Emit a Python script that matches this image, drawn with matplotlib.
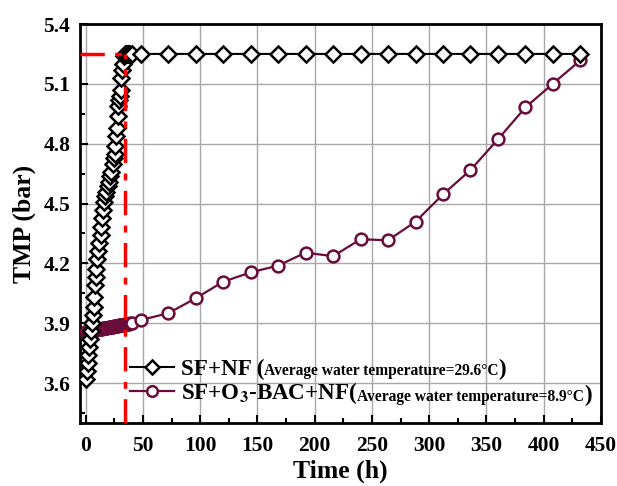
import matplotlib
matplotlib.use("Agg")
import matplotlib.pyplot as plt
from matplotlib.ticker import MultipleLocator, FormatStrFormatter

plt.rcParams['font.family'] = 'serif'
plt.rcParams['font.serif'] = ['Liberation Serif', 'DejaVu Serif']
plt.rcParams['font.weight'] = 'bold'
plt.rcParams['mathtext.fontset'] = 'stix'

# SF+NF (29.6 C) - fast rise in the first ~34 h, then flat
sf_nf_time = [0.0, 0.8, 1.6, 2.4, 3.2, 4.0, 4.8, 5.6, 6.4, 7.0, 7.6, 8.0, 8.6, 9.3,
              10.0, 11.0, 12.0, 13.0, 13.7, 14.4, 15.1, 16.0, 17.0, 18.1, 19.3, 20.4,
              21.5, 22.5, 23.4, 24.4, 25.3, 26.0, 26.8, 27.2, 27.8, 28.2, 29.0, 29.7,
              30.4, 31.2, 31.8, 32.6, 33.3, 34.0, 35.0, 36.0, 37.0, 38.0, 39.0, 40.0,
              48, 72, 96, 120, 144, 168, 192, 216, 240, 264, 288, 312, 336, 360,
              384, 408, 432]
sf_nf_tmp = [3.62, 3.66, 3.70, 3.74, 3.78, 3.82, 3.86, 3.90, 3.94, 3.98, 4.03, 4.09,
             4.13, 4.17, 4.22, 4.26, 4.30, 4.34, 4.38, 4.43, 4.47, 4.51, 4.54, 4.56,
             4.59, 4.61, 4.64, 4.66, 4.70, 4.73, 4.75, 4.79, 4.84, 4.88, 4.94, 4.99,
             5.02, 5.04, 5.07, 5.13, 5.17, 5.20, 5.24, 5.25, 5.25, 5.25, 5.25, 5.25,
             5.25, 5.25,
             5.25, 5.25, 5.25, 5.25, 5.25, 5.25, 5.25, 5.25, 5.25, 5.25, 5.25, 5.25,
             5.25, 5.25, 5.25, 5.25, 5.25]

# SF+O3-BAC+NF (8.9 C)
o3_time = [0, 1, 2, 3, 4, 5, 6, 7, 8, 9, 10, 11, 12, 13, 14, 15, 16, 17, 18, 19, 20,
           21, 22, 23, 24, 25, 26, 27, 28, 29, 30, 31, 32, 33, 34, 35, 36, 37, 38, 39, 40,
           48, 72, 96, 120, 144, 168, 192, 216, 240, 264, 288, 312, 336, 360, 384, 408, 432]
o3_tmp = [3.858, 3.859, 3.861, 3.862, 3.862, 3.864, 3.865, 3.866, 3.866, 3.868, 3.869,
          3.870, 3.871, 3.871, 3.873, 3.874, 3.875, 3.876, 3.877, 3.878, 3.879, 3.880,
          3.881, 3.882, 3.883, 3.884, 3.886, 3.887, 3.888, 3.889, 3.890, 3.891, 3.892,
          3.893, 3.894, 3.895, 3.896, 3.897, 3.898, 3.899, 3.901,
          3.916, 3.950, 4.025, 4.108, 4.155, 4.189, 4.254, 4.236, 4.321, 4.316, 4.409,
          4.546, 4.668, 4.822, 4.982, 5.101, 5.218]

cutoff_time = 34
cutoff_tmp = 5.25

labels_big = ['SF+NF (', 'SF+O$_\\mathbf{3}$-BAC+NF(']
labels_small = ['Average water temperature=29.6°C', 'Average water temperature=8.9°C']

maroon = '#6a0b3a'

fig = plt.figure(figsize=(6.17, 4.86), dpi=100)
ax = fig.add_axes([80/617, 1 - 423/486, 521/617, 399/486])

ax.grid(True, which='major', color='#a8a8a8', linewidth=1.0, zorder=0)
ax.set_axisbelow(True)

l1, = ax.plot(sf_nf_time, sf_nf_tmp, color='black', lw=1.5, marker='D', markersize=8,
              markerfacecolor='white', markeredgecolor='black', markeredgewidth=1.8, zorder=4)
l2, = ax.plot(o3_time, o3_tmp, color=maroon, lw=1.6, marker='o', markersize=8.5,
              markerfacecolor='white', markeredgecolor=maroon, markeredgewidth=1.8, zorder=3)

# red dash-dot guide lines
dashdot = (0, (7, 3, 2, 3))
ax.plot([cutoff_time, cutoff_time], [3.4, cutoff_tmp], color='red', lw=2.5,
        linestyle=dashdot, zorder=5)
ax.plot([-5, cutoff_time], [cutoff_tmp, cutoff_tmp], color='red', lw=2.5,
        linestyle=dashdot, zorder=5)

ax.set_xlim(-5, 450)
ax.set_ylim(3.4, 5.4)
ax.xaxis.set_major_locator(MultipleLocator(50))
ax.xaxis.set_minor_locator(MultipleLocator(25))
ax.yaxis.set_minor_locator(MultipleLocator(0.15))
ax.set_yticks([3.6, 3.9, 4.2, 4.5, 4.8, 5.1, 5.4])
ax.yaxis.set_major_formatter(FormatStrFormatter('%.1f'))
ax.tick_params(which='both', direction='in', width=1.5, labelsize=15.5)
ax.tick_params(axis='x', pad=9)
ax.tick_params(axis='y', pad=7)
ax.tick_params(which='major', length=6)
ax.tick_params(which='minor', length=3.5)
for s in ax.spines.values():
    s.set_linewidth(2)

ax.set_xlabel('Time (h)', fontsize=18.5, fontweight='bold', labelpad=3)
ax.set_ylabel('TMP (bar)', fontsize=18.5, fontweight='bold', labelpad=5)

leg = ax.legend([l1, l2], labels_big, loc='upper left', bbox_to_anchor=(0.096, 0.16),
                frameon=False, fontsize=16.6, borderpad=0, borderaxespad=0,
                handlelength=1.9, handletextpad=0.3, labelspacing=0.0, markerscale=0.9)
fig.canvas.draw()
for txt, small in zip(leg.get_texts(), labels_small):
    a = ax.annotate(small, xy=(1, 0), xycoords=txt, xytext=(0, 1), textcoords='offset points',
                    ha='left', va='bottom', fontsize=11.2, fontweight='bold')
    ax.annotate(')', xy=(1, 0), xycoords=a, xytext=(0, -1), textcoords='offset points',
                ha='left', va='bottom', fontsize=16.6, fontweight='bold')

fig.savefig('out.png', dpi=100)
